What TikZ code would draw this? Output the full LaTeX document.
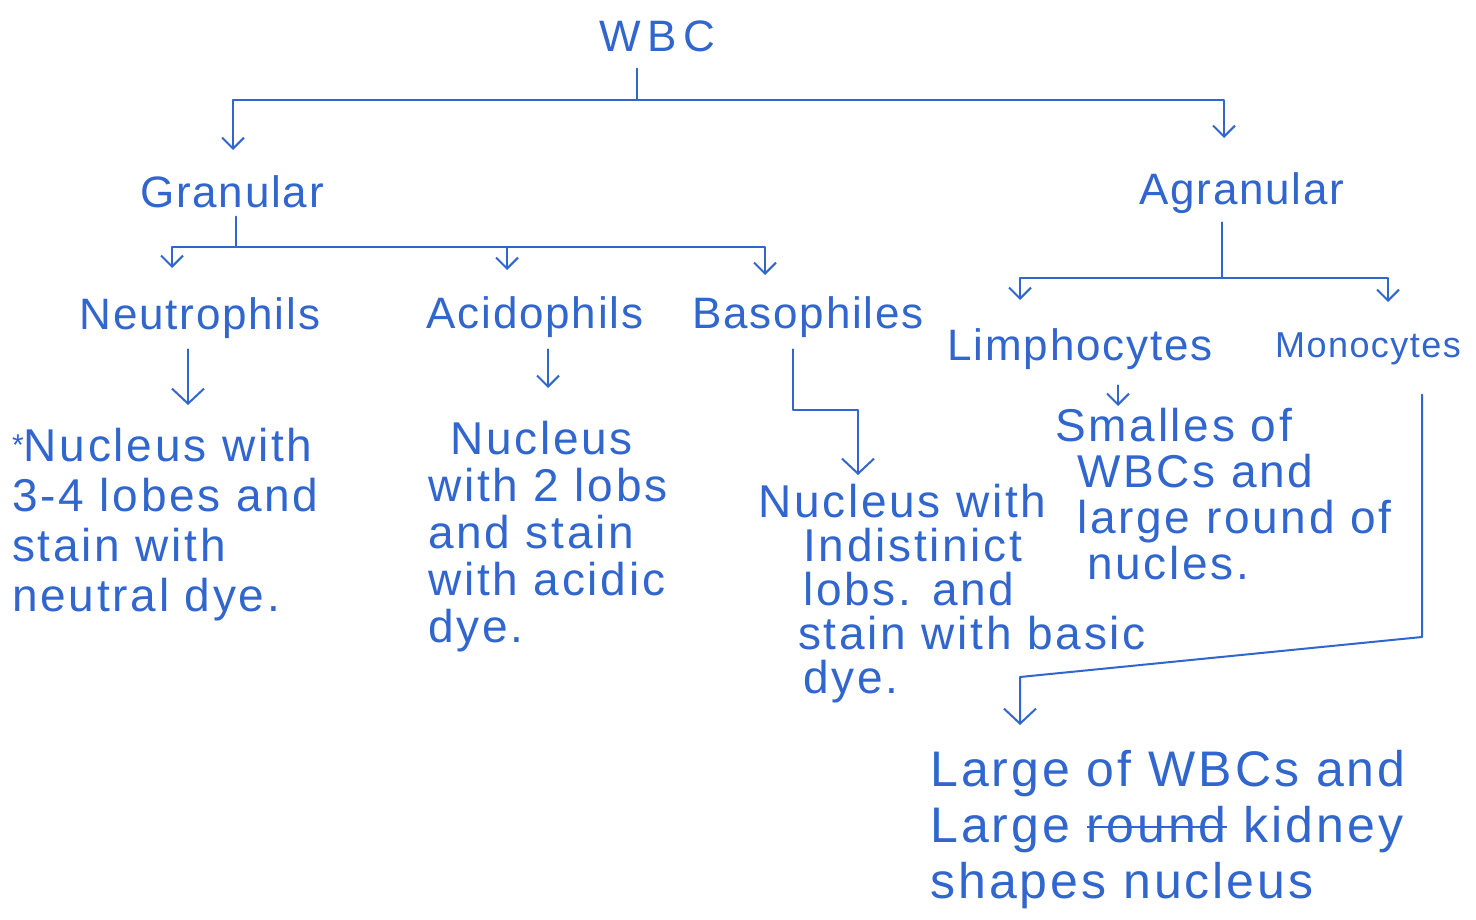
\documentclass[tikz,border=0pt]{standalone}
\usepackage{fontspec}
\setmainfont{Liberation Sans}
\usetikzlibrary{arrows.meta}
\definecolor{ink}{RGB}{48,102,206}
\newcommand\mystrike[1]{\leavevmode\setbox0\hbox{#1}\rlap{\raisebox{0.28em}{\rule{\wd0}{2pt}}}\box0\relax}
\begin{document}
\begin{tikzpicture}[x=1pt,y=-1pt,
  every node/.style={text=ink, inner sep=0pt},
  head/.style={font=\fontsize{44}{48}\selectfont\addfontfeatures{LetterSpace=4}, anchor=base},
  desc/.style={align=left, anchor=north west, font=\fontsize{46}{#1}\selectfont\addfontfeatures{LetterSpace=6}},
  ln/.style={draw=ink, line width=2pt, line cap=round, line join=round},
  arr/.style={ln, -{Straight Barb[length=11pt,width=22pt]}},
  bigarr/.style={ln, -{Straight Barb[length=15pt,width=32pt]}}]
\fill[white] (0,0) rectangle (1476,920);
\useasboundingbox (0,0) rectangle (1476,920);

% headings
\node[head, font=\fontsize{44}{48}\selectfont\addfontfeatures{LetterSpace=15}] (wbc) at (657,52) {WBC};
\node[head] (gran) at (232,208) {Granular};
\node[head] (agran) at (1242,205) {Agranular};
\node[head] (neut) at (200,330) {Neutrophils};
\node[head] (acid) at (535,328) {Acidophils};
\node[head] (baso) at (808,328) {Basophiles};
\node[head] (limph) at (1080,360) {Limphocytes};
\node[head, font=\fontsize{36}{40}\selectfont\addfontfeatures{LetterSpace=4}] (mono) at (1368,357) {Monocytes};

% descriptions
\node[desc=50] (neutT) at (12,428) {\raisebox{6pt}{\fontsize{30}{30}\selectfont *}Nucleus with\\3-4 lobes and\\stain with\\neutral dye.};
\node[desc=47] (acidT) at (428,421) {\hspace*{22pt}Nucleus\\with 2 lobs\\and stain\\with acidic\\dye.};
\node[desc=44] (basoT) at (758,484) {Nucleus with\\\hspace*{45pt}Indistinict\\\hspace*{45pt}lobs. and\\\hspace*{40pt}stain with basic\\\hspace*{45pt}dye.};
\node[desc=46] (limphT) at (1055,408) {Smalles of\\\hspace*{22pt}WBCs and\\\hspace*{22pt}large round of\\\hspace*{32pt}nucles.};
\node[desc=56, font=\fontsize{50}{56}\selectfont\addfontfeatures{LetterSpace=6}] (monoT) at (930,750) {Large of WBCs and\\Large \mystrike{round} kidney\\shapes nucleus};

% WBC branches
\coordinate (jw) at (637,100);
\coordinate (gA) at (233,150);
\coordinate (aA) at (1224,138);
\draw[ln, shorten <=16pt] (wbc.south -| jw) -- (jw);
\draw[arr] (jw) -- (gA |- jw) -- (gA);
\draw[arr] (jw) -- (aA |- jw) -- (aA);

% Granular branches
\coordinate (jg) at (236,247);
\coordinate (nA) at (172,268);
\coordinate (cA) at (507,270);
\coordinate (bA) at (765,275);
\draw[ln, shorten <=8pt] (gran.south -| jg) -- (jg);
\draw[arr] (jg) -| (nA);
\draw[arr] (jg) -| (cA);
\draw[arr] (jg) -| (bA);

% Agranular branches
\coordinate (jl) at (1222,278);
\coordinate (lA) at (1020,300);
\coordinate (mA) at (1388,302);
\draw[ln, shorten <=8pt] (agran.south -| jl) -- (jl);
\draw[arr] (jl) -| (lA);
\draw[arr] (jl) -| (mA);

% to descriptions
\coordinate (nD) at (188,405);
\draw[bigarr, shorten <=10pt] (neut.south -| nD) -- (nD);
\coordinate (cD) at (548,388);
\draw[arr, shorten <=12pt] (acid.south -| cD) -- (cD);
\coordinate (bD1) at (793,410);
\coordinate (bD) at (858,475);
\draw[bigarr, shorten <=12pt] (baso.south -| bD1) -- (bD1) -| (bD);
\coordinate (lD) at (1118,406);
\draw[arr, shorten <=16pt] (limph.south -| lD) -- (lD);
\coordinate (mD1) at (1422,637);
\coordinate (mD2) at (1020,677);
\coordinate (mD) at (1020,725);
\draw[bigarr, shorten <=30pt] (mono.south -| mD1) -- (mD1) -- (mD2) -- (mD);
\end{tikzpicture}
\end{document}
